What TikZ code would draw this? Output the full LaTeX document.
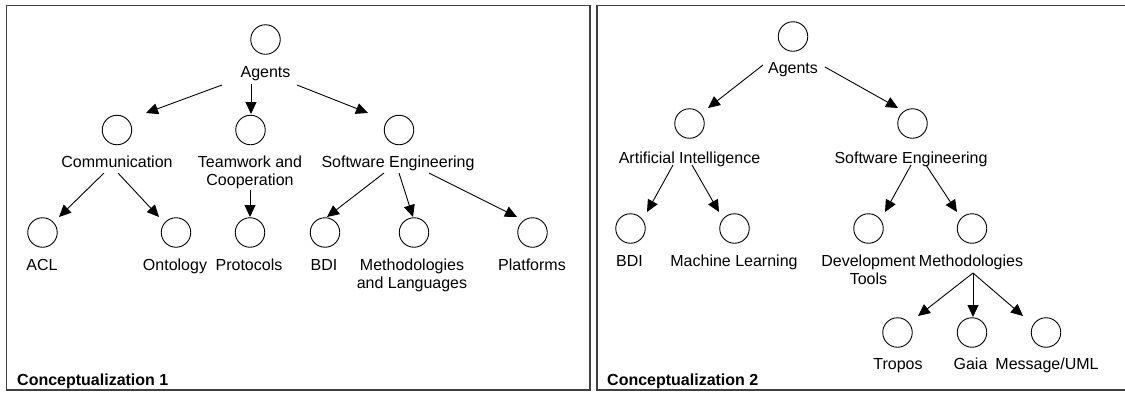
\documentclass[tikz,border=0pt]{standalone}
\usepackage{fontspec}
\setmainfont{Liberation Sans}
\usetikzlibrary{arrows.meta}
\begin{document}
\begin{tikzpicture}[x=1pt,y=-1pt,
  cnode/.style={circle,draw=black,line width=0.9pt,minimum size=29.5pt,inner sep=0pt},
  lbl/.style={anchor=base,inner sep=0pt,font=\fontsize{16}{18}\selectfont,align=center},
  arr/.style={line width=0.9pt,-{Triangle[length=12pt,width=11pt]}},
  panel/.style={draw=black!75,line width=1.6pt},
  ttl/.style={anchor=base west,inner sep=0pt,font=\fontsize{16}{18}\selectfont\bfseries}]
\useasboundingbox (0,0) rectangle (1125,392);
\clip (0,0) rectangle (1125,392);
\fill[white] (0,0) rectangle (1125,392);
% panels
\draw[panel] (6.5,5.5) rectangle (590,390);
\draw[panel] (597,5.5) rectangle (1140,390);
% ---------- Conceptualization 1 ----------
\node[cnode] (cA) at (265.5,39.5) {};
\node[lbl] (lA) at (265.5,77) {Agents};
\node[cnode] (cC) at (117,130) {};
\node[lbl] (lC) at (117,167.5) {Communication};
\node[cnode] (cT) at (250.5,130) {};
\node[lbl] (lT) at (250,185.5) {Teamwork and\\Cooperation};
\node[cnode] (cS) at (399,130) {};
\node[lbl] (lS) at (398,167.5) {Software Engineering};
\node[cnode] (cL1) at (42.5,232.5) {};
\node[lbl] (lL1) at (42,270.5) {ACL};
\node[cnode] (cO) at (176,232.5) {};
\node[lbl] (lO) at (175,270.5) {Ontology};
\node[cnode] (cP) at (250,232.5) {};
\node[lbl] (lP) at (249,270.5) {Protocols};
\node[cnode] (cB) at (325,232.5) {};
\node[lbl] (lB) at (324,270.5) {BDI};
\node[cnode] (cM) at (414,232.5) {};
\node[lbl] (lM) at (412,288.5) {Methodologies\\and Languages};
\node[cnode] (cPl) at (532.5,232.5) {};
\node[lbl] (lPl) at (532,270.5) {Platforms};
\node[ttl] (t1) at (17,385) {Conceptualization 1};
\draw[arr] ([shift={(-43.5,8)}]lA.base) -- ([shift={(29,-17)}]cC.center);
\draw[arr] ([shift={(-14.5,7)}]lA.base) -- ([shift={(0.5,-16)}]cT.center);
\draw[arr] ([shift={(31.5,8)}]lA.base) -- ([shift={(-31,-17)}]cS.center);
\draw[arr] ([shift={(-13,5.5)}]lC.base) -- ([shift={(16.5,-15.5)}]cL1.center);
\draw[arr] ([shift={(1,5.5)}]lC.base) -- ([shift={(-17,-15.5)}]cO.center);
\draw[arr] ([shift={(0,4.5)}]lT.base) -- ([shift={(0,-15.5)}]cP.center);
\draw[arr] ([shift={(-14,5.5)}]lS.base) -- ([shift={(2,-15.5)}]cB.center);
\draw[arr] ([shift={(1,5.5)}]lS.base) -- ([shift={(-1,-15.5)}]cM.center);
\draw[arr] ([shift={(31,5.5)}]lS.base) -- ([shift={(-15.5,-15.5)}]cPl.center);
% ---------- Conceptualization 2 ----------
\node[cnode] (cA2) at (793,36.5) {};
\node[lbl] (lA2) at (793,73) {Agents};
\node[cnode] (cAI) at (689.5,123.5) {};
\node[lbl] (lAI) at (689.5,163) {Artificial Intelligence};
\node[cnode] (cSE2) at (912.5,123.5) {};
\node[lbl] (lSE2) at (911,163) {Software Engineering};
\node[cnode] (cB2) at (630.5,228.5) {};
\node[lbl] (lB2) at (629.5,266) {BDI};
\node[cnode] (cML) at (734.5,228.5) {};
\node[lbl] (lML) at (734,266) {Machine Learning};
\node[cnode] (cD) at (868.5,228.5) {};
\node[lbl] (lD) at (868.5,284) {Development\\Tools};
\node[cnode] (cM2) at (972,228.5) {};
\node[lbl] (lM2) at (971,266) {Methodologies};
\node[cnode] (cTr) at (897.5,332.5) {};
\node[lbl] (lTr) at (898,369) {Tropos};
\node[cnode] (cG) at (972,332.5) {};
\node[lbl] (lG) at (970.5,369) {Gaia};
\node[cnode] (cMs) at (1046,332.5) {};
\node[lbl] (lMs) at (1047,369) {Message/UML};
\node[ttl] (t2) at (607,385) {Conceptualization 2};
\draw[arr] ([shift={(-30,-8)}]lA2.base) -- ([shift={(18.5,-15.5)}]cAI.center);
\draw[arr] ([shift={(32,-6)}]lA2.base) -- ([shift={(-14.5,-15.5)}]cSE2.center);
\draw[arr] ([shift={(-16.5,2)}]lAI.base) -- ([shift={(16.5,-16.5)}]cB2.center);
\draw[arr] ([shift={(2.5,2)}]lAI.base) -- ([shift={(-15.5,-16.5)}]cML.center);
\draw[arr] ([shift={(0,2)}]lSE2.base) -- ([shift={(16.5,-16.5)}]cD.center);
\draw[arr] ([shift={(15,2)}]lSE2.base) -- ([shift={(-15,-16.5)}]cM2.center);
\draw[arr] ([shift={(2,7)}]lM2.base) -- ([shift={(20.5,-16.5)}]cTr.center);
\draw[arr] ([shift={(2,7)}]lM2.base) -- ([shift={(1,-15.5)}]cG.center);
\draw[arr] ([shift={(2,7)}]lM2.base) -- ([shift={(-23,-16.5)}]cMs.center);
\end{tikzpicture}
\end{document}
